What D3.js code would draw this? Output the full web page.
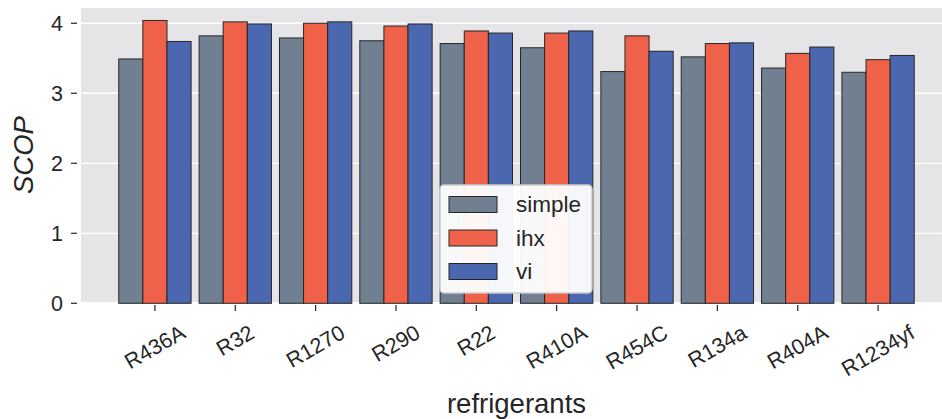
<!DOCTYPE html>
<html><head><meta charset="utf-8">
<script src="https://cdn.jsdelivr.net/npm/d3@7"></script>
<style>body{margin:0;background:#fff}svg{display:block;font-family:"Liberation Sans",Arial,sans-serif}</style>
</head><body><svg id="c" width="942" height="419"></svg>
<script>
const categories = ["R436A","R32","R1270","R290","R22","R410A","R454C","R134a","R404A","R1234yf"];
const seriesNames = ["simple","ihx","vi"];
const simple = [3.49,3.82,3.79,3.75,3.71,3.65,3.31,3.52,3.36,3.30];
const ihx    = [4.04,4.02,4.00,3.96,3.89,3.86,3.82,3.71,3.57,3.48];
const vi     = [3.74,3.99,4.02,3.99,3.86,3.89,3.60,3.72,3.66,3.54];
const yTicks = [0,1,2,3,4];
const colors = ["#708090","#EF6148","#4A67B0"];
const seriesVals = [simple, ihx, vi];

const svg = d3.select("#c");
const L = 81, T = 8, B = 302, R = 952;
const x = d3.scaleLinear().domain([-0.92, categories.length - 1 + 0.92]).range([L, R]);
const y = d3.scaleLinear().domain([0, 4.218]).range([303.3, 8]);
const unit = x(1) - x(0);
const groupW = 0.9 * unit, barW = groupW / 3;
const tickFs = 21.5;

svg.append("rect").attr("x", L).attr("y", T).attr("width", R - L).attr("height", B - T).attr("fill", "#E5E5E8");
svg.append("g").selectAll("line").data(yTicks).join("line")
  .attr("x1", L).attr("x2", R).attr("y1", d => y(d)).attr("y2", d => y(d))
  .attr("stroke", "#fff").attr("stroke-width", 1.3);

seriesVals.forEach((vals, s) => {
  svg.append("g").selectAll("rect").data(vals).join("rect")
    .attr("x", (d, i) => x(i) - groupW / 2 + s * barW)
    .attr("y", d => y(d))
    .attr("width", barW)
    .attr("height", d => y(0) - y(d))
    .attr("fill", colors[s]).attr("stroke", "#262626").attr("stroke-width", 1);
});

const gy = svg.append("g");
yTicks.forEach(t => {
  gy.append("line").attr("x1", 71).attr("x2", 77).attr("y1", y(t)).attr("y2", y(t)).attr("stroke", "#262626").attr("stroke-width", 1.2);
  gy.append("text").attr("x", 63).attr("y", y(t)).attr("dy", "0.36em").attr("text-anchor", "end")
    .attr("font-size", tickFs).attr("fill", "#262626").text(t);
});
const gx = svg.append("g");
categories.forEach((c, i) => {
  const cx = x(i);
  gx.append("line").attr("x1", cx).attr("x2", cx).attr("y1", 305).attr("y2", 311).attr("stroke", "#262626").attr("stroke-width", 1.2);
  const t = gx.append("text").attr("text-anchor", "middle").attr("dominant-baseline", "central")
    .attr("font-size", tickFs).attr("fill", "#262626").text(c);
  const w = t.node().getComputedTextLength();
  const h = tickFs * 0.95;
  const bh = w * 0.5 + h * 0.866;
  t.attr("transform", `translate(${cx},${322 + bh / 2}) rotate(-30)`);
});

svg.append("text").attr("transform", `translate(33,${(T + B) / 2}) rotate(-90)`).attr("text-anchor", "middle")
  .attr("font-size", 27.5).attr("font-style", "italic").attr("fill", "#262626").text("SCOP");
svg.append("text").attr("x", (L + R) / 2).attr("y", 413).attr("text-anchor", "middle")
  .attr("font-size", 27.5).attr("fill", "#262626").text("refrigerants");

const lg = svg.append("g");
lg.append("rect").attr("x", 440).attr("y", 185).attr("width", 152).attr("height", 108).attr("rx", 4)
  .attr("fill", "#fff").attr("fill-opacity", 0.95).attr("stroke", "#cccccc").attr("stroke-width", 1.5);
seriesNames.forEach((n, s) => {
  const cy = 204.5 + s * 33.5;
  lg.append("rect").attr("x", 449).attr("y", cy - 8).attr("width", 48).attr("height", 16)
    .attr("fill", colors[s]).attr("stroke", "#262626").attr("stroke-width", 1);
  lg.append("text").attr("x", 516).attr("y", cy).attr("dy", "0.35em").attr("font-size", 22.5).attr("fill", "#262626").text(n);
});
</script></body></html>
